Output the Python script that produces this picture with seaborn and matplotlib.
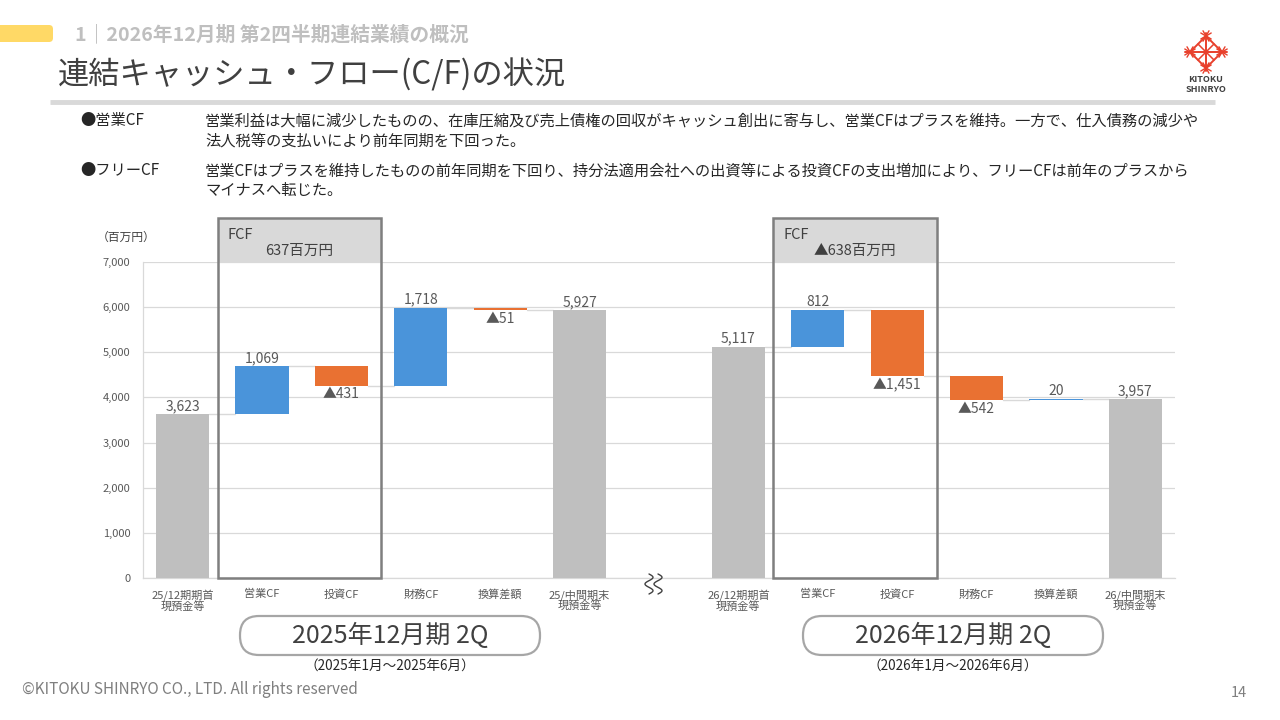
import numpy as np
import pandas as pd
import matplotlib
matplotlib.use("Agg")
import matplotlib.pyplot as plt
from matplotlib.patches import Rectangle, FancyBboxPatch
import seaborn as sns

# ---------------- data ----------------
labels_2025 = ["25/12期期首\n現預金等", "営業CF", "投資CF", "財務CF", "換算差額", "25/中間期末\n現預金等"]
values_2025 = [3623, 1069, -431, 1718, -51, 5927]
labels_2026 = ["26/12期期首\n現預金等", "営業CF", "投資CF", "財務CF", "換算差額", "26/中間期末\n現預金等"]
values_2026 = [5117, 812, -1451, -542, 20, 3957]
kinds = ["total", "delta", "delta", "delta", "delta", "total"]
fcf_2025 = "637百万円"
fcf_2026 = "▲638百万円"
period_titles = ["2025年12月期 2Q", "2026年12月期 2Q"]
period_ranges = ["（2025年1月～2025年6月）", "（2026年1月～2026年6月）"]
y_ticks = [0, 1000, 2000, 3000, 4000, 5000, 6000, 7000]

C_BLUE = "#4A94DA"
C_ORANGE = "#E97132"
C_GRAY = "#BFBFBF"
TXT = "#595959"

sns.set_theme(style="white")
plt.rcParams["font.family"] = ["Noto Sans CJK JP", "DejaVu Sans"]

# build waterfall table
rows = []
for period, labels, values in (("25", labels_2025, values_2025), ("26", labels_2026, values_2026)):
    run = 0
    for i, (lab, v, k) in enumerate(zip(labels, values, kinds)):
        key = f"{period}-{i}"
        if k == "total":
            bottom, top = 0, v
            run = v
            color = C_GRAY
        else:
            bottom, top = (run, run + v) if v >= 0 else (run + v, run)
            run = run + v
            color = C_BLUE if v >= 0 else C_ORANGE
        rows.append(dict(key=key, label=lab, value=v, kind=k, bottom=bottom,
                         top=top, level=run, color=color))
    if period == "25":
        rows.append(dict(key="gap", label="", value=np.nan, kind="gap", bottom=np.nan,
                         top=np.nan, level=np.nan, color="#FFFFFF"))
df = pd.DataFrame(rows)
order = list(df["key"])
data = df[df["kind"] != "gap"]

fig = plt.figure(figsize=(12.8, 7.2), dpi=100)
ax = fig.add_axes([143 / 1280, 1 - 578 / 720, 1032 / 1280, 316 / 720])

sns.barplot(data=data, x="key", y="top", hue="key", order=order,
            palette=dict(zip(data["key"], data["color"])), legend=False,
            width=0.67, saturation=1, ax=ax, zorder=3)

# shift bars to floating positions
centers = {}
for p in list(ax.patches):
    c = p.get_x() + p.get_width() / 2
    idx = int(round(c))
    r = df.iloc[idx]
    p.set_y(r["bottom"])
    p.set_height(r["top"] - r["bottom"])
    p.set_edgecolor("none")
    centers[idx] = (p.get_x(), p.get_x() + p.get_width())

ax.set_xlim(-0.5, len(order) - 0.5)
ax.set_ylim(0, 7000)
ax.set_yticks(y_ticks)
ax.set_yticklabels([f"{t:,}" for t in y_ticks], fontsize=8, color=TXT)
ax.set_xticks(range(len(order)))
ax.set_xticklabels(list(df["label"]), fontsize=8, color=TXT, linespacing=0.95)
ax.tick_params(axis="x", length=0, pad=8)
ax.tick_params(axis="y", length=0, pad=9)
ax.set_xlabel("")
ax.set_ylabel("")
ax.grid(axis="y", color="#D9D9D9", linewidth=0.9, zorder=0)
ax.set_axisbelow(True)
for s in ["top", "right"]:
    ax.spines[s].set_visible(False)
ax.spines["left"].set_color("#D9D9D9")
ax.spines["bottom"].set_color("#D9D9D9")
ax.spines["left"].set_linewidth(0.9)
ax.spines["bottom"].set_linewidth(0.9)

# connectors and labels
for i, r in df.iterrows():
    if r["kind"] == "gap" or i not in centers:
        continue
    x0, x1 = centers[i]
    xc = (x0 + x1) / 2
    if i + 1 in centers and df.iloc[i + 1]["kind"] != "gap":
        lvl = r["top"] if r["kind"] == "total" else r["level"]
        nx0 = centers[i + 1][0]
        ax.plot([x1, nx0], [lvl, lvl], color="#D9D9D9", lw=1.0, zorder=2)
    v = r["value"]
    if v >= 0:
        ax.text(xc, r["top"] + 30, f"{int(v):,}", ha="center", va="bottom",
                fontsize=10, color=TXT, zorder=5)
    else:
        ax.text(xc, r["bottom"] - 40, f"▲{int(-v):,}", ha="center", va="top",
                fontsize=10, color=TXT, zorder=5)

# FCF boxes
for first, txt in ((1, fcf_2025), (8, fcf_2026)):
    left, right = first - 0.56, first + 1.5
    ytop = 7000 * (578 - 218) / 316
    ax.add_patch(Rectangle((left, 7000), right - left, ytop - 7000, facecolor="#D9D9D9",
                           edgecolor="none", clip_on=False, zorder=1))
    ax.add_patch(Rectangle((left, 0), right - left, ytop, facecolor="none",
                           edgecolor="#7F7F7F", lw=1.8, clip_on=False, zorder=6))
    ax.text(left + 0.13, 7000 + (ytop - 7000) * 0.62, "FCF", ha="left", va="center",
            fontsize=10.5, color="#404040", zorder=7)
    ax.text((left + right) / 2, 7000 + (ytop - 7000) * 0.25, txt, ha="center", va="center",
            fontsize=10.5, color="#404040", zorder=7)

# ---------------- overlay (pixel coords) ----------------
ov = fig.add_axes([0, 0, 1, 1], zorder=10)
ov.set_xlim(0, 1280)
ov.set_ylim(720, 0)
ov.axis("off")
ov.patch.set_alpha(0)

# header
ov.add_patch(FancyBboxPatch((-10, 25), 63, 17, boxstyle="round,pad=0,rounding_size=4",
                            facecolor="#FFD966", edgecolor="none"))
ov.text(75, 34, "1｜2026年12月期 第2四半期連結業績の概況", fontsize=14.2, color="#BFBFBF",
        fontweight="bold", ha="left", va="center")
ov.text(58, 75, "連結キャッシュ・フロー(C/F)の状況", fontsize=22.5, color="#404040",
        ha="left", va="center")
ov.plot([50, 1215], [102, 102], color="#D9D9D9", lw=3.5, solid_capstyle="butt")

# logo
red = "#E8402C"
cx, cy = 1206, 52
d = 16
ov.plot([cx, cx + d, cx, cx - d, cx], [cy - d, cy, cy + d, cy, cy - d], color=red, lw=1.4)
ov.plot([cx - d / 2, cx + d / 2], [cy - d / 2, cy + d / 2], color=red, lw=1.1)
ov.plot([cx + d / 2, cx - d / 2], [cy - d / 2, cy + d / 2], color=red, lw=1.1)
ov.plot([cx - d - 5, cx + d + 5], [cy, cy], color=red, lw=1.4)
ov.plot([cx, cx], [cy - d - 3, cy + d + 3], color=red, lw=1.4)
for (px, py) in ((cx, cy - d), (cx, cy + d), (cx - d, cy), (cx + d, cy)):
    for ang in (30, 60, 120, 150):
        a = np.deg2rad(ang)
        ov.plot([px - 6 * np.cos(a), px + 6 * np.cos(a)], [py - 6 * np.sin(a), py + 6 * np.sin(a)],
                color=red, lw=1.0)
ov.text(cx, 80, "KITOKU", fontsize=6.5, color="#404040", ha="center", va="center", fontweight="bold")
ov.text(cx, 89, "SHINRYO", fontsize=6.5, color="#404040", ha="center", va="center", fontweight="bold")

# bullet text
body_c = "#262626"
fs = 11
ov.text(80, 121, "●営業CF", fontsize=fs, color=body_c, ha="left", va="center")
ov.text(205, 121, "営業利益は大幅に減少したものの、在庫圧縮及び売上債権の回収がキャッシュ創出に寄与し、営業CFはプラスを維持。一方で、仕入債務の減少や",
        fontsize=fs, color=body_c, ha="left", va="center")
ov.text(205, 141, "法人税等の支払いにより前年同期を下回った。", fontsize=fs, color=body_c, ha="left", va="center")
ov.text(80, 171, "●フリーCF", fontsize=fs, color=body_c, ha="left", va="center")
ov.text(205, 171, "営業CFはプラスを維持したものの前年同期を下回り、持分法適用会社への出資等による投資CFの支出増加により、フリーCFは前年のプラスから",
        fontsize=fs, color=body_c, ha="left", va="center")
ov.text(205, 191, "マイナスへ転じた。", fontsize=fs, color=body_c, ha="left", va="center")

# unit label
ov.text(97, 237, "（百万円）", fontsize=8.5, color="#404040", ha="left", va="center")

# axis break squiggle
t = np.linspace(0, 1, 60)
for x0 in (649, 658):
    ov.plot(x0 + 4 * np.sin(t * 3 * np.pi), 574 + 20 * t, color="#404040", lw=1.0)

# period pills
for (xc, title, rng) in ((390, period_titles[0], period_ranges[0]), (953, period_titles[1], period_ranges[1])):
    ov.add_patch(FancyBboxPatch((xc - 150, 616), 300, 39, boxstyle="round,pad=0,rounding_size=19",
                                facecolor="white", edgecolor="#A6A6A6", lw=1.6))
    ov.text(xc, 636, title, fontsize=18, color="#404040", ha="center", va="center")
    ov.text(xc, 666, rng, fontsize=9.8, color="#262626", ha="center", va="center")

# footer
ov.text(22, 690, "©KITOKU SHINRYO CO., LTD. All rights reserved", fontsize=11, color="#7F7F7F",
        ha="left", va="center")
ov.text(1247, 693, "14", fontsize=10.5, color="#7F7F7F", ha="right", va="center")

fig.savefig("out.png", dpi=100)
